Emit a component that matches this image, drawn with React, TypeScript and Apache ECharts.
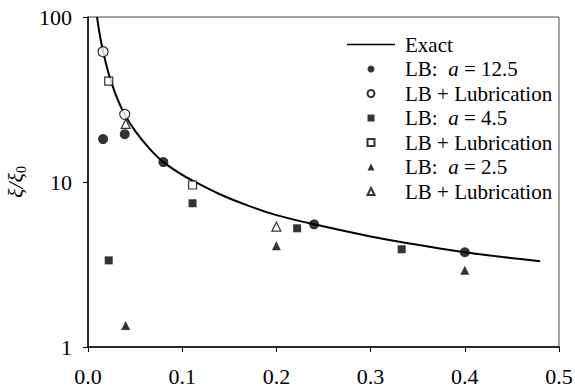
import React, { useEffect, useRef } from "react";
import * as echarts from "echarts";

// Exact curve
const exactX = [0.0096, 0.012, 0.016, 0.022, 0.03, 0.039, 0.05, 0.065, 0.08, 0.1, 0.111, 0.14, 0.17, 0.2, 0.24, 0.3, 0.35, 0.4, 0.44, 0.48];
const exactY = [100, 81.1, 62, 45.2, 33.2, 25.7, 20.4, 16.0, 13.2, 11.04, 10.2, 8.43, 7.19, 6.3, 5.54, 4.68, 4.16, 3.75, 3.51, 3.31];

// LB a = 12.5 (filled circles)
const lb125X = [0.016, 0.039, 0.08, 0.24, 0.4];
const lb125Y = [18.2, 19.5, 13.2, 5.54, 3.75];
// LB + Lubrication a = 12.5 (open circles)
const lub125X = [0.016, 0.039];
const lub125Y = [61.6, 25.7];
// LB a = 4.5 (filled squares)
const lb45X = [0.022, 0.111, 0.222, 0.333];
const lb45Y = [3.35, 7.43, 5.24, 3.91];
// LB + Lubrication a = 4.5 (open squares)
const lub45X = [0.022, 0.111];
const lub45Y = [40.9, 9.59];
// LB a = 2.5 (filled triangles)
const lb25X = [0.04, 0.2, 0.4];
const lb25Y = [1.35, 4.11, 2.92];
// LB + Lubrication a = 2.5 (open triangles)
const lub25X = [0.04, 0.2];
const lub25Y = [22.5, 5.36];

const xTicks = [0, 0.1, 0.2, 0.3, 0.4, 0.5];
const yTicks = [1, 10, 100];

const legendLabels: Record<string, string> = {
  Exact: "{n|Exact}",
  "LB 12.5": "{n|LB:  }{i|a}{n| = 12.5}",
  "Lub 12.5": "{n|LB + Lubrication}",
  "LB 4.5": "{n|LB:  }{i|a}{n| = 4.5}",
  "Lub 4.5": "{n|LB + Lubrication}",
  "LB 2.5": "{n|LB:  }{i|a}{n| = 2.5}",
  "Lub 2.5": "{n|LB + Lubrication}",
};

const FONT = "Liberation Serif";
const T = { fontFamily: FONT, fontWeight: "normal" as const, fontStyle: "normal" as const, color: "#000" };

const SQUARE = "path://M0,0H10V10H0Z";
const TRIANGLE = "path://M5,0L10,10H0Z";
const LINE = "path://M0,0H48V1.6H0Z";

const CSS = `#chart-box text, #chart-box tspan { font-family: "Liberation Serif", "Times New Roman", serif !important; }`;

const zip = (xs: number[], ys: number[]) => xs.map((x, i) => [x, ys[i]]);

export default function App() {
  const ref = useRef<HTMLDivElement>(null);
  useEffect(() => {
    if (!ref.current) return;
    const chart = echarts.init(ref.current, undefined, { renderer: "svg" });
    const scatter = (name: string, xs: number[], ys: number[], symbol: string, size: number, filled: boolean) => ({
      name,
      type: "scatter",
      data: zip(xs, ys),
      symbol,
      symbolSize: size,
      itemStyle: filled
        ? { color: "#000", borderWidth: 0 }
        : { color: "#fff", borderColor: "#000", borderWidth: 1.2 },
      z: 3,
    });
    const li = (name: string, icon: string) => ({ name, icon });
    chart.setOption({
      animation: false,
      backgroundColor: "#fff",
      textStyle: { ...T },
      grid: { left: 88, right: 16, top: 17, bottom: 41, show: true, borderColor: "#444", borderWidth: 1, outerBoundsMode: "none" },
      legend: {
        left: 342,
        top: 29,
        orient: "vertical",
        itemWidth: 48,
        itemHeight: 7,
        itemGap: 3.5,
        symbolKeepAspect: true,
        formatter: (n: string) => legendLabels[n] || n,
        textStyle: {
          ...T,
          fontSize: 21,
          padding: [0, 0, 0, 5],
          rich: {
            n: { ...T, fontSize: 21, lineHeight: 21 },
            i: { ...T, fontSize: 21, fontStyle: "italic", lineHeight: 21 },
          },
        },
        data: [
          { name: "Exact", icon: LINE, itemStyle: { color: "#000", borderWidth: 0 } },
          li("LB 12.5", "circle"),
          li("Lub 12.5", "circle"),
          li("LB 4.5", SQUARE),
          li("Lub 4.5", SQUARE),
          li("LB 2.5", TRIANGLE),
          li("Lub 2.5", TRIANGLE),
        ],
      },
      xAxis: {
        type: "value",
        min: xTicks[0],
        max: xTicks[xTicks.length - 1],
        interval: 0.1,
        axisLine: { lineStyle: { color: "#000", width: 1.5 } },
        axisTick: { show: true, length: 5, lineStyle: { color: "#000" } },
        splitLine: { show: false },
        axisLabel: { ...T, fontSize: 22, margin: 18, formatter: (v: number) => v.toFixed(1) },
      },
      yAxis: {
        type: "log",
        logBase: 10,
        min: yTicks[0],
        max: yTicks[yTicks.length - 1],
        axisLine: { show: true, lineStyle: { color: "#000", width: 1.5 } },
        axisTick: { show: true, length: 5, lineStyle: { color: "#000" } },
        minorTick: { show: false },
        splitLine: { show: false },
        axisLabel: { ...T, fontSize: 22, margin: 16 },
        name: "{a|ξ/ξ}{s|0}",
        nameLocation: "middle",
        nameGap: 54,
        nameTextStyle: {
          ...T,
          rich: {
            a: { ...T, fontSize: 22, fontStyle: "italic", lineHeight: 26 },
            s: { ...T, fontSize: 14, lineHeight: 26, verticalAlign: "bottom", padding: [6, 0, 0, 0] },
          },
        },
      },
      series: [
        {
          name: "Exact",
          type: "line",
          data: zip(exactX, exactY),
          symbol: "none",
          smooth: 0.2,
          lineStyle: { color: "#000", width: 2 },
          itemStyle: { color: "#000" },
          z: 2,
        },
        scatter("LB 12.5", lb125X, lb125Y, "circle", 10, true),
        scatter("Lub 12.5", lub125X, lub125Y, "circle", 10, false),
        scatter("LB 4.5", lb45X, lb45Y, "rect", 8, true),
        scatter("Lub 4.5", lub45X, lub45Y, "rect", 8, false),
        scatter("LB 2.5", lb25X, lb25Y, "triangle", 9, true),
        scatter("Lub 2.5", lub25X, lub25Y, "triangle", 9, false),
      ],
    });
    return () => chart.dispose();
  }, []);
  return (
    <>
      <style>{CSS}</style>
      <div id="chart-box" ref={ref} style={{ position: "fixed", left: 0, top: 0, width: 575, height: 388 }} />
    </>
  );
}
